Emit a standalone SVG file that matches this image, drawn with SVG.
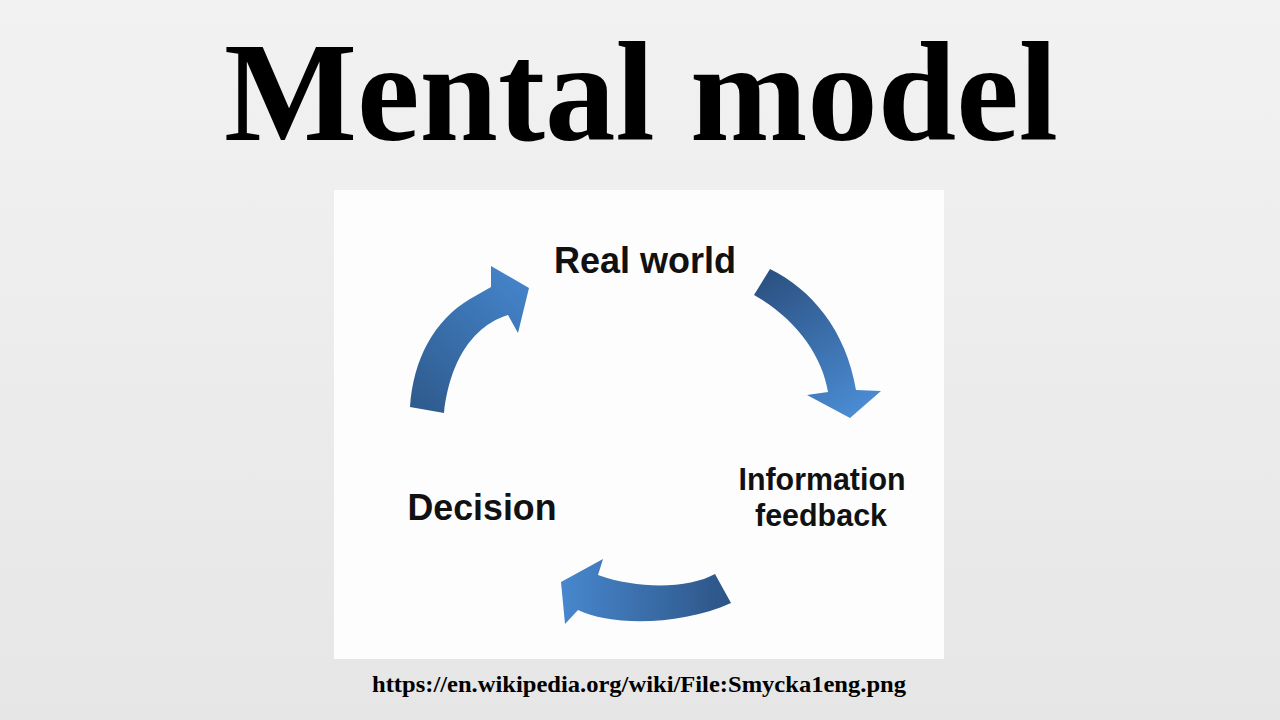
<svg xmlns="http://www.w3.org/2000/svg" width="1280" height="720" viewBox="0 0 1280 720">
  <defs>
    <linearGradient id="bg" x1="0" y1="0" x2="0" y2="1">
      <stop offset="0" stop-color="#f2f2f2"/>
      <stop offset="1" stop-color="#e6e6e6"/>
    </linearGradient>
    <linearGradient id="gTL" gradientUnits="userSpaceOnUse" x1="420" y1="410" x2="525" y2="290">
      <stop offset="0" stop-color="#2f5b8e"/>
      <stop offset="1" stop-color="#4382c8"/>
    </linearGradient>
    <linearGradient id="gTR" gradientUnits="userSpaceOnUse" x1="762" y1="280" x2="850" y2="415">
      <stop offset="0" stop-color="#2c5283"/>
      <stop offset="1" stop-color="#4a8bd2"/>
    </linearGradient>
    <linearGradient id="gB" gradientUnits="userSpaceOnUse" x1="728" y1="590" x2="565" y2="590">
      <stop offset="0" stop-color="#2d5587"/>
      <stop offset="1" stop-color="#4786cc"/>
    </linearGradient>
    <style>
      .title { font-family: "Liberation Serif", "Times New Roman", serif; font-weight: bold; fill: #000; }
      .lbl { font-family: "Liberation Sans", Arial, sans-serif; font-weight: bold; fill: #111; font-size: 36px; }
      .lbl2 { font-family: "Liberation Sans", Arial, sans-serif; font-weight: bold; fill: #111; font-size: 32px; }
    </style>
  </defs>

  <rect x="0" y="0" width="1280" height="720" fill="url(#bg)"/>

  <text class="title" x="641" y="140" font-size="141" text-anchor="middle">Mental model</text>

  <rect x="334" y="190" width="610" height="469" fill="#fdfdfd"/>

  <g id="connectors">
    <path id="arrow-decision-realworld" fill="url(#gTL)"
      d="M410,407 C413,360 434,320 470,299 L491,287 L491,266 L529,288 L518,333 L508,315 C485,322 452,345 444,413 Z"/>
    <path id="arrow-realworld-info" fill="url(#gTR)"
      d="M770,269 C811,289 846,330 856,390 L881,391 L850,418 L807,395 L828,392 C822,355 795,318 754,295 Z"/>
    <path id="arrow-info-decision" fill="url(#gB)"
      d="M715,574 C690,588 640,590 598,575 L603,559 L561,582 L565,624 L578,610 C610,626 680,626 731,603 Z"/>
  </g>

  <g id="node-realworld">
    <text class="lbl" x="645" y="273" text-anchor="middle" textLength="182" lengthAdjust="spacingAndGlyphs">Real world</text>
  </g>
  <g id="node-info">
    <text class="lbl2" x="822" y="490" text-anchor="middle" textLength="167" lengthAdjust="spacingAndGlyphs">Information</text>
    <text class="lbl2" x="821" y="526" text-anchor="middle" textLength="132" lengthAdjust="spacingAndGlyphs">feedback</text>
  </g>
  <g id="node-decision">
    <text class="lbl" x="482" y="520" text-anchor="middle" textLength="149" lengthAdjust="spacingAndGlyphs">Decision</text>
  </g>

  <text class="title" x="639" y="692" font-size="24" text-anchor="middle" textLength="534" lengthAdjust="spacingAndGlyphs">https://en.wikipedia.org/wiki/File:Smycka1eng.png</text>
</svg>
